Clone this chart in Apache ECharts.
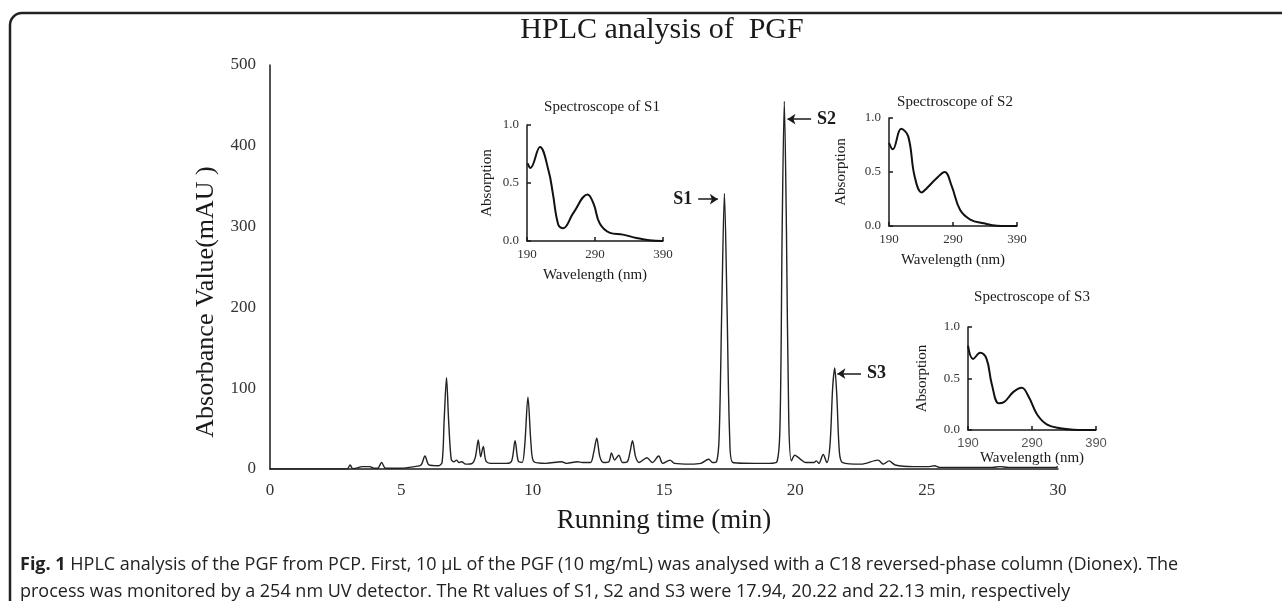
<!DOCTYPE html>
<html>
<head>
<meta charset="utf-8">
<script src="https://cdn.jsdelivr.net/npm/echarts@6/dist/echarts.min.js"></script>
<style>
  html, body { margin: 0; padding: 0; background: #fff; }
  #chart { width: 1282px; height: 601px; }
</style>
</head>
<body>
<div id="chart"></div>
<script>
// HPLC chromatogram (time in min, absorbance in mAU)
const hplcTime = [0, 2.5, 2.95, 3.05, 3.15, 3.3, 3.5, 3.8, 3.95, 4.1, 4.25, 4.4, 5.0, 5.5, 5.75, 5.9, 6.05, 6.4, 6.55, 6.63, 6.72, 6.8, 6.9, 7.0, 7.1, 7.2, 7.3, 7.45, 7.7, 7.82, 7.93, 8.02, 8.12, 8.22, 8.4, 9.0, 9.2, 9.33, 9.45, 9.6, 9.7, 9.82, 9.94, 10.05, 10.5, 11.1, 11.3, 11.7, 11.9, 12.2, 12.32, 12.44, 12.56, 12.7, 12.9, 13.0, 13.12, 13.28, 13.42, 13.6, 13.7, 13.8, 13.92, 14.05, 14.35, 14.55, 14.8, 14.95, 15.23, 15.4, 16.0, 16.4, 16.7, 16.85, 17.0, 17.1, 17.2, 17.3, 17.4, 17.5, 17.62, 18.5, 19.0, 19.3, 19.42, 19.5, 19.58, 19.66, 19.75, 19.85, 19.98, 20.2, 20.4, 20.7, 20.8, 20.9, 21.06, 21.2, 21.32, 21.42, 21.5, 21.58, 21.68, 21.8, 22.5, 23.15, 23.35, 23.57, 23.8, 24.5, 25.1, 25.3, 25.5, 27.5, 27.8, 28.1, 29.9, 30];
const hplcMau = [0, 0, 0.5, 5, 0.5, 1, 3, 3, 1, 1, 8, 1, 1, 3, 5, 16, 5, 4, 8, 60, 113, 60, 12, 9, 11, 8, 9, 6, 7, 15, 36, 15, 28, 10, 7, 7, 10, 35, 10, 8, 30, 89, 30, 9, 7, 9, 7, 9, 8, 8, 20, 38, 15, 8, 9, 20, 11, 17, 8, 9, 20, 35, 15, 8, 14, 8, 16, 7, 11, 7, 6, 7, 12, 8, 9, 40, 200, 341, 200, 40, 8, 7, 7, 9, 60, 300, 455, 300, 60, 10, 17, 12, 8, 8, 10, 7, 18, 8, 30, 100, 125, 90, 20, 8, 6, 11, 6, 10, 5, 3, 3, 4, 2, 2, 3, 2, 2, 3];

// UV spectra of the three peaks (wavelength in nm, absorption)
const waveS1 = [191, 195, 209, 222, 228, 236, 243, 258, 279, 288, 297, 312, 331, 351, 370, 390];
const absS1 = [0.67, 0.63, 0.81, 0.60, 0.41, 0.14, 0.11, 0.24, 0.40, 0.32, 0.15, 0.07, 0.055, 0.026, 0.006, 0];
const waveS2 = [190, 196, 209, 220, 230, 241, 249, 264, 277, 288, 301, 317, 338, 359, 390];
const absS2 = [0.77, 0.71, 0.90, 0.83, 0.46, 0.31, 0.35, 0.44, 0.50, 0.37, 0.15, 0.06, 0.025, 0.003, 0];
const waveS3 = [190, 198, 209, 219, 227, 238, 246, 261, 274, 285, 298, 313, 334, 355, 390];
const absS3 = [0.82, 0.69, 0.75, 0.69, 0.45, 0.26, 0.27, 0.37, 0.41, 0.32, 0.15, 0.055, 0.016, 0.003, 0];

const serif = '"Liberation Serif", "Times New Roman", serif';
const ink = '#1a1a1a';

const pairs = (xs, ys) => xs.map((x, i) => [x, ys[i]]);

const chart = echarts.init(document.getElementById('chart'));

const insetX = (gridIndex, sans) => ({
  type: 'value', gridIndex, min: 190, max: 390, interval: 100,
  name: 'Wavelength (nm)', nameLocation: 'middle', nameGap: gridIndex === 3 ? 18 : 27,
  nameTextStyle: { fontFamily: serif, fontSize: 15, color: ink },
  axisLine: { show: true, lineStyle: { color: ink, width: 1.5 } },
  axisTick: { show: true, inside: true, length: 4, lineStyle: { color: ink, width: 1.5 } },
  axisLabel: { fontFamily: sans ? '"Liberation Sans", Arial, sans-serif' : serif, fontSize: 13, color: sans ? '#555' : '#333', margin: 7 },
  splitLine: { show: false }
});
const insetY = (gridIndex, gap) => ({
  type: 'value', gridIndex, min: 0, max: 1, interval: 0.5,
  name: 'Absorption', nameLocation: 'middle', nameGap: gap, nameRotate: 90,
  nameTextStyle: { fontFamily: serif, fontSize: 15, color: ink },
  axisLine: { show: true, lineStyle: { color: ink, width: 1.5 } },
  axisTick: { show: true, inside: true, length: 4, lineStyle: { color: ink, width: 1.5 } },
  axisLabel: { fontFamily: serif, fontSize: 13, color: '#333', margin: 8, formatter: v => v.toFixed(1) },
  splitLine: { show: false }
});
const insetTitle = (text, x, y) => ({
  text, left: x, top: y, textAlign: 'center',
  textStyle: { fontFamily: serif, fontSize: 15, fontWeight: 'normal', color: ink }
});

chart.setOption({
  animation: false,
  backgroundColor: '#fff',
  title: [
    {
      text: 'HPLC analysis of  PGF', left: 657, top: 10, textAlign: 'center',
      textStyle: { fontFamily: serif, fontSize: 30, fontWeight: 'normal', color: ink }
    },
    insetTitle('Spectroscope of S1', 597, 95),
    insetTitle('Spectroscope of S2', 950, 90),
    insetTitle('Spectroscope of S3', 1027, 285),
    {
      text: '{b|Fig. 1} HPLC analysis of the PGF from PCP. First, 10 µL of the PGF (10 mg/mL) was analysed with a C18 reversed-phase column (Dionex). The\nprocess was monitored by a 254 nm UV detector. The Rt values of S1, S2 and S3 were 17.94, 20.22 and 22.13 min, respectively',
      left: 15, top: 546,
      textStyle: {
        fontFamily: '"Open Sans", sans-serif', fontSize: 18, fontWeight: 'normal', color: '#222', lineHeight: 27,
        rich: { b: { fontFamily: '"Open Sans", sans-serif', fontSize: 18, fontWeight: 'bold', color: '#222', lineHeight: 27 } }
      }
    }
  ],
  graphic: [
    {
      type: 'rect', silent: true,
      shape: { x: 10, y: 13, width: 1320, height: 640, r: 12 },
      style: { fill: 'none', stroke: '#222', lineWidth: 2.5 }
    }
  ],
  grid: [
    { left: 270, top: 65, right: 224, bottom: 132 },
    { left: 527, top: 125, width: 136, height: 116 },
    { left: 889, top: 118, width: 128, height: 108 },
    { left: 968, top: 327, width: 128, height: 103 }
  ],
  xAxis: [
    {
      type: 'value', gridIndex: 0, min: 0, max: 30, interval: 5,
      name: 'Running time (min)', nameLocation: 'middle', nameGap: 38,
      nameTextStyle: { fontFamily: serif, fontSize: 27, color: ink },
      axisLine: { show: true, lineStyle: { color: ink, width: 1.5 } },
      axisTick: { show: false },
      axisLabel: { fontFamily: serif, fontSize: 17, color: '#333', margin: 13 },
      splitLine: { show: false }
    },
    insetX(1), insetX(2), insetX(3, true)
  ],
  yAxis: [
    {
      type: 'value', gridIndex: 0, min: 0, max: 500, interval: 100,
      name: 'Absorbance Value(mAU )', nameLocation: 'middle', nameGap: 48, nameRotate: 90,
      nameTextStyle: { fontFamily: serif, fontSize: 26, color: ink, padding: [0, 70, 0, 0] },
      axisLine: { show: true, lineStyle: { color: ink, width: 1.5 } },
      axisTick: { show: false },
      axisLabel: { fontFamily: serif, fontSize: 17, color: '#333', margin: 14 },
      splitLine: { show: false }
    },
    insetY(1, 32), insetY(2, 40), insetY(3, 38)
  ],
  series: [
    {
      type: 'line', xAxisIndex: 0, yAxisIndex: 0,
      data: pairs(hplcTime, hplcMau),
      showSymbol: false, smooth: 0.3,
      lineStyle: { color: '#222', width: 1.4 },
      markLine: {
        silent: true, symbol: ['none', 'arrow'], symbolSize: 8,
        lineStyle: { color: ink, width: 1.5, type: 'solid' },
        label: { show: true, position: 'start', distance: 6, fontFamily: serif, fontSize: 18, fontWeight: 'bold', color: ink },
        data: [
          [{ coord: [16.3, 334], label: { formatter: 'S1' } }, { coord: [17.05, 334] }],
          [{ coord: [20.6, 433], label: { formatter: 'S2' } }, { coord: [19.7, 433] }],
          [{ coord: [22.5, 118], label: { formatter: 'S3' } }, { coord: [21.6, 118] }]
        ]
      }
    },
    { type: 'line', xAxisIndex: 1, yAxisIndex: 1, data: pairs(waveS1, absS1), showSymbol: false, smooth: 0.4, lineStyle: { color: '#111', width: 2 } },
    { type: 'line', xAxisIndex: 2, yAxisIndex: 2, data: pairs(waveS2, absS2), showSymbol: false, smooth: 0.4, lineStyle: { color: '#111', width: 2 } },
    { type: 'line', xAxisIndex: 3, yAxisIndex: 3, data: pairs(waveS3, absS3), showSymbol: false, smooth: 0.4, lineStyle: { color: '#111', width: 2 } }
  ]
});
</script>
</body>
</html>
